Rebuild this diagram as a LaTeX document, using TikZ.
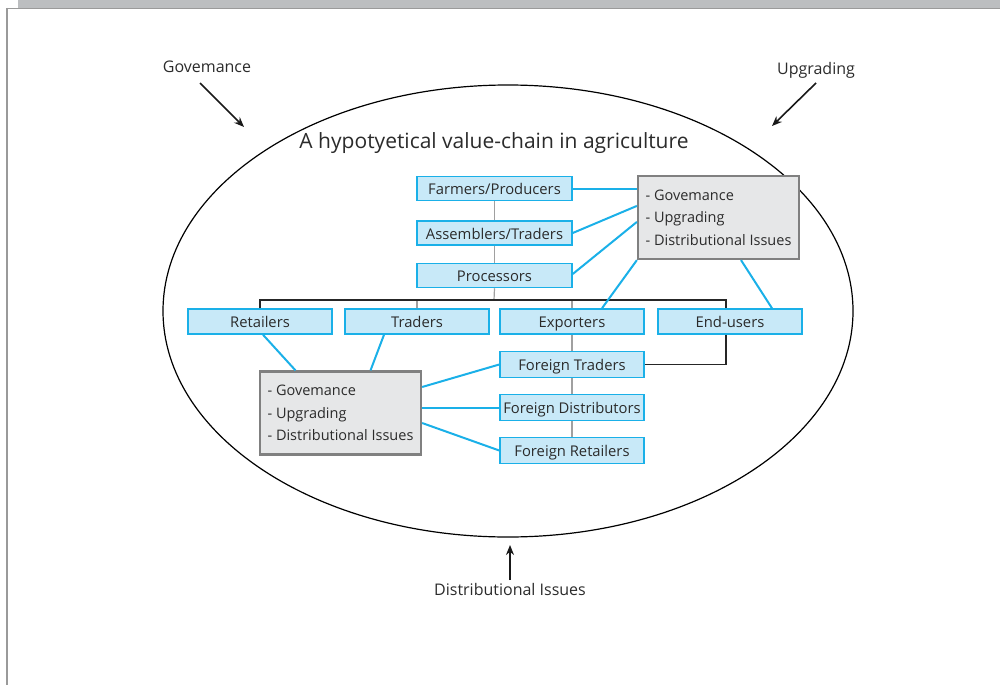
\documentclass[tikz,border=0pt]{standalone}
\usepackage{fontspec}
\setmainfont{Open Sans}
\usetikzlibrary{arrows.meta}
\definecolor{chainblue}{HTML}{1AB0E8}
\definecolor{chainfill}{HTML}{C8E9F8}
\definecolor{issuefill}{HTML}{E6E7E8}
\definecolor{issueedge}{HTML}{808080}
\definecolor{inktext}{HTML}{2B2B2B}
\definecolor{bandgray}{HTML}{BCBEC0}
\definecolor{framegray}{HTML}{9A9A9A}
\definecolor{linkgray}{HTML}{A0A0A0}
\begin{document}
\begin{tikzpicture}[x=1pt,y=-1pt,
  stage/.style={draw=chainblue, fill=chainfill, line width=1.5pt, minimum height=24pt,
    minimum width=144pt, inner sep=0pt, text height=12.3pt, text depth=0pt,
    text=inktext, font=\fontsize{14.8}{18}\selectfont},
  issues/.style={draw=issueedge, fill=issuefill, line width=2.2pt, minimum width=161pt,
    minimum height=83pt, inner sep=0pt, align=left,
    text=inktext, font=\fontsize{14.5}{22.5}\selectfont},
  outlabel/.style={text=inktext, font=\fontsize{16}{19}\selectfont, inner sep=0pt},
  bluelink/.style={draw=chainblue, line width=2pt},
  graylink/.style={draw=linkgray, line width=1.2pt},
  blacklink/.style={draw=black!85, line width=1.2pt},
  pointer/.style={draw=black!90, line width=1.6pt, -{Stealth[length=10pt,width=8pt]}}]
\useasboundingbox (0,0) rectangle (1000,685);

% page frame
\fill[bandgray] (18,0) rectangle (1000,8);
\draw[framegray, line width=0.8pt] (7,8.5) -- (1000,8.5);
\draw[framegray, line width=1.6pt] (7,8) -- (7,685);

% enclosing value-chain ellipse
\draw[black, line width=1.2pt] (508,311) ellipse [x radius=345, y radius=226];

\node[text=inktext, font=\fontsize{21}{25}\selectfont] (title) at (494,143)
  {A hypotyetical value-chain in agriculture};

% chain stages
\node[stage, minimum width=155pt] (far) at (494.5,188.5) {Farmers/Producers};
\node[stage, minimum width=155pt] (asm) at (494.5,233) {Assemblers/Traders};
\node[stage, minimum width=155pt] (proc) at (494.5,275.5) {Processors};
\node[stage, minimum height=25pt] (ret) at (260,321.5) {Retailers};
\node[stage, minimum height=25pt] (trd) at (417,321.5) {Traders};
\node[stage, minimum height=25pt] (exp) at (572,321.5) {Exporters};
\node[stage, minimum height=25pt] (end) at (730,321.5) {End-users};
\node[stage, minimum height=26pt] (ft) at (572,364.5) {Foreign Traders};
\node[stage, minimum height=26pt] (fd) at (572,407.5) {Foreign Distributors};
\node[stage, minimum height=26pt] (fr) at (572,450.5) {Foreign Retailers};

% issue boxes
\node[issues] (itop) at (718.5,217.5) {- Govemance\\- Upgrading\\- Distributional Issues};
\node[issues] (ibot) at (340.5,413) {- Govemance\\- Upgrading\\- Distributional Issues};

% chain flow
\coordinate (bar) at (494,300);
\coordinate (barend) at (726,300);
\path[graylink] (far) -- (asm);
\path[graylink] (asm) -- (proc);
\path[graylink] (proc.south) -- (bar);
\path[graylink] (trd.north) -- (trd.north |- bar);
\path[graylink] (exp.north) -- (exp.north |- bar);
\path[graylink] (exp) -- (ft);
\path[graylink] (ft) -- (fd);
\path[graylink] (fd) -- (fr);
\path[blacklink] (ret.north) -- (ret.north |- bar) -- (barend) -- (barend |- end.north);
\path[blacklink] (barend |- end.south) |- (ft.east);

% links to the issue boxes
\path[bluelink] (far.east) -- (itop.west |- far.east);
\path[bluelink] (asm.east) -- ([yshift=-31pt]itop.north west);
\path[bluelink] ([yshift=1.5pt]proc.east) -- ([yshift=-47pt]itop.north west);
\path[bluelink] ([xshift=30pt]exp.north) -- (itop.south west);
\path[bluelink] ([xshift=42pt]end.north) -- ([xshift=22.5pt]itop.south);
\path[bluelink] ([xshift=3pt]ret.south) -- ([xshift=-45pt]ibot.north);
\path[bluelink] ([xshift=-33pt]trd.south) -- ([xshift=30pt]ibot.north);
\path[bluelink] ([yshift=26pt]ibot.east) -- (ft.west);
\path[bluelink] (ibot.east |- fd.west) -- (fd.west);
\path[bluelink] ([yshift=-10pt]ibot.east) -- (fr.west);

% outer themes
\node[outlabel] (gov) at (207,67) {Govemance};
\node[outlabel] (upg) at (816,70) {Upgrading};
\node[outlabel] (dist) at (510,589) {Distributional Issues};
\coordinate (govtail) at (200,83);
\coordinate (govtip) at (244,127);
\coordinate (upgtail) at (816,83);
\coordinate (upgtip) at (772,126);
\coordinate (disttail) at (510,580);
\coordinate (disttip) at (510,545);
\path[pointer] (govtail) -- (govtip);
\path[pointer] (upgtail) -- (upgtip);
\path[pointer] (disttail) -- (disttip);
\end{tikzpicture}
\end{document}
